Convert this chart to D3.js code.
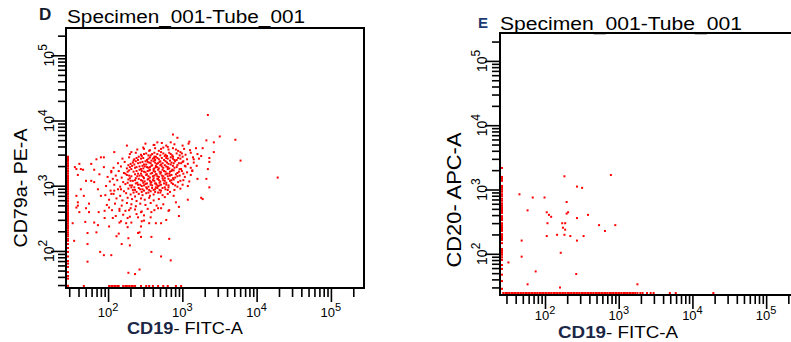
<!DOCTYPE html>
<html>
<head>
<meta charset="utf-8">
<script src="https://cdn.jsdelivr.net/npm/d3@7"></script>
<style>
    body { margin: 0; background: #fff; }
    svg { display: block; font-family: "Liberation Sans", Arial, sans-serif; }
</style>
</head>
<body>
<div id="chart"></div>
<script>

// all event values are log10 of the fluorescence intensity
const decadeExponents = [2, 3, 4, 5];
const OFF_SCALE_LOW = 1;   // below the axis minimum -> piles up on the axis

// panel D : [CD19 FITC-A, CD79a PE-A]
const panelDEvents = [
    // upper / outer events
    [3.33,4.07],[3.49,3.74],[3.70,3.69],[3.77,3.37],[2.86,3.77],[2.92,3.72],[2.83,3.65],[3.08,3.66],
    [3.31,3.68],[3.41,3.65],[2.65,3.65],[2.61,3.61],[2.24,3.60],[2.47,3.55],[2.54,3.52],[2.70,3.55],
    [2.79,3.58],[2.90,3.54],[3.26,3.56],[3.41,3.50],[2.07,3.50],[2.30,3.50],[1.93,3.42],[1.89,3.42],
    [1.83,3.39],[1.76,3.32],[1.60,3.32],[1.56,3.24],[1.65,3.23],[1.58,3.15],[1.80,3.23],[1.87,3.16],
    [1.93,3.27],[2.03,3.21],[1.69,3.06],[1.76,3.06],[1.62,2.93],[1.80,3.04],[1.85,2.93],[2.05,3.09],
    [2.07,2.91],[2.16,2.93],[2.03,2.86],[1.89,2.83],[1.66,2.83],[3.35,3.35],[3.33,3.24],[3.31,3.09],
    [3.35,2.96],[3.24,2.80],[3.19,3.09],[3.12,3.21],[3.14,3.39],[3.24,3.44],[4.27,3.11],[3.35,3.41],
    [1.54,3.27],[1.62,3.24],[1.56,2.83],[1.58,2.68],
    // lower / outer events
    [3.26,2.78],[3.06,2.77],[2.94,2.66],[2.94,2.52],[2.81,2.61],[2.77,2.46],[2.70,2.41],[2.81,2.17],
    [2.70,1.90],[2.83,1.84],[2.57,1.97],[2.57,2.20],[2.43,2.20],[2.39,2.26],[2.28,2.07],[2.26,2.18],
    [2.17,2.09],[2.13,2.25],[2.10,2.21],[2.03,1.92],[1.93,1.92],[1.88,1.97],[1.71,2.09],[1.71,1.82],
    [1.53,2.14],[1.51,2.41],[1.71,2.26],[1.83,2.27],[2.00,2.36],[1.85,2.38],[1.80,2.42],[1.68,2.43],
    [2.23,2.41],[2.25,2.35],[2.14,2.42],[2.43,2.36],[2.44,2.44],[2.54,2.41],[2.63,2.41],[2.39,2.50],
    [2.25,2.49],[2.05,2.49],[1.94,2.49],[1.86,2.58],[1.73,2.58],[1.60,2.58],[1.56,2.65],[1.69,2.64],
    [1.58,2.73],[1.73,2.71],[1.94,2.60],[2.00,2.65],[2.14,2.60],[2.27,2.61],[2.43,2.58],[2.57,2.58],
    [2.66,2.64],[2.80,2.60],[2.90,2.73],[2.41,1.70],[2.26,1.65],[2.35,1.63],[2.41,2.27],
    // main population
    [2.49,3.63],[2.60,3.61],[2.71,3.64],[2.77,3.60],[2.88,3.62],[2.99,3.60],[3.07,3.63],
    [2.38,3.54],[2.46,3.57],[2.55,3.53],[2.62,3.56],[2.67,3.52],[2.73,3.57],[2.80,3.54],[2.86,3.56],
    [2.93,3.52],[3.01,3.55],[3.09,3.53],[3.17,3.56],
    [2.28,3.47],[2.36,3.49],[2.43,3.46],[2.50,3.48],[2.56,3.45],[2.61,3.49],[2.65,3.47],[2.70,3.50],
    [2.76,3.46],[2.81,3.49],[2.85,3.45],[2.91,3.48],[2.96,3.50],[3.03,3.46],[3.10,3.49],[3.19,3.47],
    [2.18,3.40],[2.27,3.42],[2.34,3.39],[2.40,3.43],[2.46,3.41],[2.51,3.38],[2.55,3.42],[2.59,3.40],
    [2.63,3.43],[2.67,3.39],[2.71,3.41],[2.75,3.44],[2.79,3.40],[2.83,3.42],[2.88,3.38],[2.93,3.41],
    [2.99,3.43],[3.05,3.39],[3.13,3.42],[3.21,3.40],
    [2.12,3.33],[2.21,3.35],[2.29,3.32],[2.36,3.36],[2.42,3.34],[2.47,3.31],[2.52,3.35],[2.56,3.33],
    [2.60,3.36],[2.64,3.32],[2.68,3.35],[2.72,3.33],[2.76,3.36],[2.80,3.32],[2.84,3.34],[2.89,3.36],
    [2.94,3.33],[2.99,3.35],[3.06,3.32],[3.14,3.34],
    [2.06,3.26],[2.16,3.28],[2.24,3.25],[2.31,3.29],[2.37,3.27],[2.43,3.24],[2.48,3.28],[2.53,3.26],
    [2.57,3.29],[2.61,3.25],[2.65,3.27],[2.69,3.30],[2.73,3.26],[2.77,3.28],[2.81,3.25],[2.86,3.29],
    [2.91,3.27],[2.97,3.24],[3.03,3.28],[3.10,3.26],[3.18,3.29],
    [2.03,3.19],[2.13,3.21],[2.20,3.18],[2.27,3.22],[2.33,3.20],[2.39,3.17],[2.44,3.21],[2.49,3.19],
    [2.54,3.22],[2.58,3.18],[2.62,3.20],[2.66,3.23],[2.70,3.19],[2.74,3.21],[2.78,3.17],[2.82,3.20],
    [2.87,3.22],[2.92,3.18],[2.98,3.21],[3.05,3.19],[3.12,3.22],
    [1.98,3.12],[2.09,3.14],[2.17,3.11],[2.24,3.15],[2.30,3.13],[2.36,3.10],[2.41,3.14],[2.46,3.12],
    [2.50,3.15],[2.55,3.11],[2.59,3.13],[2.63,3.16],[2.67,3.12],[2.71,3.14],[2.75,3.10],[2.79,3.13],
    [2.84,3.15],[2.89,3.11],[2.95,3.14],[3.02,3.12],[3.10,3.15],
    [2.01,3.05],[2.11,3.07],[2.19,3.04],[2.26,3.08],[2.32,3.06],[2.38,3.03],[2.43,3.07],[2.48,3.05],
    [2.52,3.08],[2.57,3.04],[2.61,3.06],[2.65,3.09],[2.69,3.05],[2.73,3.07],[2.77,3.03],[2.82,3.06],
    [2.87,3.08],[2.93,3.04],[3.00,3.07],[3.08,3.05],
    [1.96,2.98],[2.07,3.00],[2.15,2.97],[2.22,3.01],[2.28,2.99],[2.34,2.96],[2.39,3.00],[2.44,2.98],
    [2.49,3.01],[2.53,2.97],[2.58,2.99],[2.62,3.02],[2.66,2.98],[2.70,3.00],[2.75,2.96],[2.80,2.99],
    [2.86,3.01],[2.92,2.97],[2.99,3.00],[3.06,2.98],
    [2.02,2.91],[2.12,2.93],[2.20,2.90],[2.26,2.94],[2.32,2.92],[2.37,2.89],[2.42,2.93],[2.47,2.91],
    [2.51,2.94],[2.56,2.90],[2.60,2.92],[2.65,2.95],[2.70,2.91],[2.76,2.93],[2.82,2.89],[2.88,2.92],
    [2.96,2.94],
    [1.95,2.84],[2.06,2.86],[2.15,2.83],[2.23,2.87],[2.29,2.85],[2.35,2.82],[2.40,2.86],[2.45,2.84],
    [2.50,2.87],[2.55,2.83],[2.60,2.85],[2.66,2.88],[2.72,2.84],[2.79,2.86],[2.87,2.83],
    [2.00,2.77],[2.10,2.79],[2.18,2.76],[2.25,2.80],[2.31,2.78],[2.37,2.75],[2.43,2.79],[2.48,2.77],
    [2.54,2.80],[2.60,2.76],[2.67,2.78],[2.75,2.81],
    [1.97,2.69],[2.08,2.71],[2.17,2.68],[2.24,2.72],[2.30,2.70],[2.36,2.67],[2.42,2.71],[2.49,2.69],
    [2.56,2.72],[2.64,2.68],[2.73,2.70],
    [2.04,2.61],[2.14,2.63],[2.22,2.60],[2.29,2.64],[2.35,2.62],[2.44,2.59],[2.52,2.63],[2.61,2.61],
    [2.70,2.64],
    [2.09,2.52],[2.19,2.54],[2.28,2.51],[2.37,2.55],[2.47,2.53],[2.56,2.50],
    [2.16,2.44],[2.30,2.42],[2.47,2.45],
    // densest part of the population
    [2.44,3.44],[2.53,3.45],[2.61,3.43],[2.69,3.45],[2.78,3.44],[2.86,3.43],[2.95,3.45],
    [2.33,3.37],[2.39,3.38],[2.49,3.36],[2.57,3.37],[2.62,3.38],[2.69,3.36],[2.74,3.38],[2.82,3.37],
    [2.91,3.38],[3.00,3.36],
    [2.26,3.30],[2.34,3.31],[2.45,3.29],[2.50,3.31],[2.58,3.30],[2.63,3.29],[2.70,3.31],[2.75,3.30],
    [2.83,3.31],[2.92,3.30],[3.02,3.29],
    [2.30,3.24],[2.41,3.23],[2.46,3.25],[2.55,3.23],[2.60,3.24],[2.67,3.25],[2.72,3.23],[2.79,3.24],
    [2.85,3.23],[2.95,3.24],
    [2.22,3.17],[2.35,3.16],[2.43,3.17],[2.51,3.16],[2.56,3.17],[2.64,3.16],[2.69,3.17],[2.76,3.16],
    [2.81,3.17],[2.90,3.16],[3.00,3.17],
    [2.28,3.10],[2.40,3.09],[2.47,3.10],[2.53,3.09],[2.60,3.10],[2.66,3.09],[2.72,3.10],[2.80,3.09],
    [2.86,3.10],
    [2.25,3.03],[2.36,3.02],[2.46,3.03],[2.51,3.02],[2.56,3.03],[2.63,3.02],[2.68,3.03],[2.74,3.02],
    [2.84,3.03],
    [2.30,2.96],[2.40,2.95],[2.50,2.96],[2.58,2.95],[2.63,2.96],[2.72,2.95],[2.80,2.96],
    [2.33,2.88],[2.44,2.89],[2.53,2.88],[2.62,2.89],[2.69,2.88],
    [2.47,3.47],[2.58,3.47],[2.73,3.48],[2.83,3.47],[2.98,3.48],
    [2.37,3.41],[2.43,3.40],[2.53,3.40],[2.61,3.41],[2.65,3.41],[2.77,3.41],[2.86,3.40],[2.96,3.40],
    [2.32,3.34],[2.39,3.33],[2.45,3.35],[2.54,3.34],[2.62,3.34],[2.66,3.33],[2.78,3.34],[2.87,3.33],
    [2.97,3.33],
    [2.28,3.27],[2.35,3.26],[2.41,3.28],[2.51,3.27],[2.55,3.27],[2.63,3.27],[2.71,3.28],[2.79,3.27],
    [2.88,3.26],
    [2.25,3.20],[2.37,3.21],[2.47,3.20],[2.52,3.21],[2.60,3.21],[2.68,3.20],[2.76,3.20],[2.84,3.21],
    [2.94,3.20],
    [2.27,3.14],[2.38,3.13],[2.44,3.14],[2.53,3.13],[2.61,3.14],[2.65,3.13],[2.73,3.13],[2.82,3.14],
    [2.92,3.13],
    [2.29,3.06],[2.35,3.07],[2.45,3.06],[2.55,3.06],[2.59,3.07],[2.67,3.07],[2.75,3.06],[2.84,3.07],
    [2.96,3.06],
    [2.31,2.99],[2.42,3.00],[2.47,2.99],[2.56,3.00],[2.64,3.00],[2.68,2.99],[2.77,3.00],[2.89,2.99],
    [2.35,2.92],[2.45,2.93],[2.54,2.92],[2.62,2.93],[2.68,2.92],[2.79,2.92]
];
// CD79a of panel D events whose CD19 is off scale (left axis pile-up)
const panelDLeftAxis = [3.43,3.41,3.38,3.36,3.33,3.30,3.28,3.25,3.22,3.20,3.17,3.14,3.12,3.09,3.06,3.04,
    3.01,2.98,2.95,2.93,2.90,2.87,2.85,2.82,2.79,2.76,2.74,2.71,2.68,2.66,2.63,2.60,2.57,2.55,2.52,2.49,
    2.46,2.44,2.41,2.38,2.35,2.33,2.30,2.27,2.24,2.21,2.17,2.14,2.09,2.03,1.97,1.90,1.83,1.79,1.74,
    1.66,1.60,1.56,1.45];
// CD19 of panel D events whose CD79a is off scale (bottom axis pile-up)
const panelDBottomAxis = [1.66,2.00,2.03,2.05,2.08,2.11,2.13,2.19,2.22,2.24,2.27,2.30,2.32,2.35,2.43,
    2.50,2.54,2.59,2.66,2.73,2.79,2.90,2.97];

// panel E : [CD19 FITC-A, CD20 APC-A]
const panelEEvents = [
    [2.25,3.19],[2.88,3.21],[2.42,3.03],[2.49,3.01],[1.64,2.91],[1.82,2.86],[1.98,2.86],[2.28,2.79],
    [1.75,2.66],[2.01,2.63],[2.04,2.59],[2.07,2.56],[2.30,2.63],[2.28,2.61],[2.42,2.54],[2.57,2.59],
    [2.02,2.46],[2.22,2.46],[2.26,2.46],[2.23,2.39],[2.26,2.36],[2.72,2.43],[2.94,2.43],[2.80,2.34],
    [2.15,2.28],[2.25,2.28],[2.33,2.26],[2.01,2.26],[2.51,2.26],[2.42,2.19],[1.67,2.19],[2.20,2.00],
    [1.67,1.94],[1.49,1.85],[1.86,1.71],[2.41,1.67],[1.75,1.51],[2.19,1.46],[3.24,1.51]
];
const panelELeftAxis = [3.32,3.18,3.15,3.12,3.04,3.01,2.98,2.95,2.91,2.88,2.84,2.81,2.77,2.74,2.71,
    2.68,2.65,2.62,2.57,2.54,2.51,2.46,2.43,2.40,2.37,2.34,2.29,2.26,2.23,2.20,2.15,2.06,2.03,2.00,
    1.97,1.93,1.89,1.81,1.75,1.66,1.56,1.44];
const panelEBottomAxis = [1.42,1.45,1.47,1.50,1.53,1.55,1.58,1.61,1.63,1.66,1.69,1.72,1.74,1.77,1.80,
    1.82,1.85,1.88,1.91,1.93,1.96,1.99,2.01,2.04,2.07,2.10,2.12,2.15,2.18,2.20,2.23,2.26,2.29,2.31,
    2.34,2.37,2.39,2.42,2.45,2.48,2.50,2.53,2.56,2.58,2.61,2.64,2.67,2.69,2.72,2.75,2.77,2.80,2.83,
    2.86,2.88,2.91,2.94,2.96,2.99,3.02,3.05,3.07,3.10,3.13,3.15,3.18,3.21,3.24,3.28,3.31,3.37,3.42,
    3.46,3.68,3.76,4.27];

const svg = d3.select("#chart").append("svg")
    .attr("width", 791)
    .attr("height", 342);

svg.append("rect").attr("width", 791).attr("height", 342).attr("fill", "#fff");


class FlowPlot {

    constructor(svg, config, events, leftPile, bottomPile) {
        this.svg = svg;
        this.config = config;
        // events off scale low get clamped onto the axis
        this.events = events
            .concat(leftPile.map(v => [OFF_SCALE_LOW, v]))
            .concat(bottomPile.map(v => [v, OFF_SCALE_LOW]));

        this.initVis();
    }

    initVis() {
        let vis = this;
        let c = vis.config;

        vis.g = vis.svg.append("g");

        vis.x = d3.scaleLog().domain(c.xDomain).range(c.xRange).clamp(true);
        vis.y = d3.scaleLog().domain(c.yDomain).range(c.yRange).clamp(true);

        let isMajor = v => Math.abs(Math.log10(v) - Math.round(Math.log10(v))) < 1e-6;
        vis.xMinor = vis.x.ticks().filter(v => !isMajor(v));
        vis.xMajor = vis.x.ticks().filter(isMajor);
        vis.yMinor = vis.y.ticks().filter(v => !isMajor(v));
        vis.yMajor = vis.y.ticks().filter(isMajor);

        // x axis ticks
        [[vis.xMinor, 9], [vis.xMajor, 14]].forEach(([vals, size]) => {
            vis.g.append("g")
                .attr("class", "axis x-axis")
                .attr("transform", `translate(0, ${c.axisY})`)
                .call(d3.axisBottom(vis.x).tickValues(vals).tickSize(size).tickSizeOuter(0).tickFormat(""))
                .call(g => g.select(".domain").remove())
                .selectAll("line").attr("stroke", "#000").attr("stroke-width", 1.6);
        });

        // y axis ticks
        [[vis.yMinor, 8], [vis.yMajor, 15]].forEach(([vals, size]) => {
            vis.g.append("g")
                .attr("class", "axis y-axis")
                .attr("transform", `translate(${c.axisX}, 0)`)
                .call(d3.axisLeft(vis.y).tickValues(vals).tickSize(size).tickSizeOuter(0).tickFormat(""))
                .call(g => g.select(".domain").remove())
                .selectAll("line").attr("stroke", "#000").attr("stroke-width", 1.6);
        });

        // axis lines + box
        vis.g.append("line")
            .attr("x1", c.axisX).attr("x2", c.axisX)
            .attr("y1", c.boxTop).attr("y2", c.axisY + 1)
            .attr("stroke", "#000").attr("stroke-width", 2);
        vis.g.append("line")
            .attr("x1", c.axisX - 1).attr("x2", c.boxRight)
            .attr("y1", c.axisY).attr("y2", c.axisY)
            .attr("stroke", "#000").attr("stroke-width", 2);
        vis.g.append("line")
            .attr("x1", c.axisX - 1).attr("x2", c.boxRight)
            .attr("y1", c.boxTop).attr("y2", c.boxTop)
            .attr("stroke", "#000").attr("stroke-width", 2);
        if (c.drawRight) {
            vis.g.append("line")
                .attr("x1", c.boxRight).attr("x2", c.boxRight)
                .attr("y1", c.boxTop - 1).attr("y2", c.axisY + 1)
                .attr("stroke", "#000").attr("stroke-width", 2);
        }

        // tick labels 10^n
        decadeExponents.forEach(n => {
            let t = vis.g.append("text")
                .attr("x", vis.x(Math.pow(10, n)))
                .attr("y", c.xLabelY)
                .attr("text-anchor", "middle")
                .attr("font-size", "13px");
            t.append("tspan").text("10");
            t.append("tspan").attr("dy", -6).attr("font-size", "11px").text(n);

            let ty = vis.g.append("text")
                .attr("transform", `translate(${c.yLabelX}, ${vis.y(Math.pow(10, n))}) rotate(-90)`)
                .attr("text-anchor", "middle")
                .attr("font-size", "14px");
            ty.append("tspan").text("10");
            ty.append("tspan").attr("dy", -7).attr("font-size", "12px").text(n);
        });

        // panel letter + title
        vis.g.append("text")
            .attr("x", c.letterX).attr("y", c.letterY)
            .attr("font-size", c.letterSize).attr("font-weight", "bold")
            .attr("fill", c.letterColor)
            .text(c.letter);
        vis.g.append("text")
            .attr("x", c.titleX).attr("y", c.titleY)
            .attr("font-size", "18px")
            .attr("textLength", c.titleLength).attr("lengthAdjust", "spacingAndGlyphs")
            .text("Specimen_001-Tube_001");

        // x axis label
        let xl = vis.g.append("text")
            .attr("x", c.xTitleX).attr("y", c.xTitleY)
            .attr("font-size", "16px")
            .attr("textLength", c.xTitleLength).attr("lengthAdjust", "spacingAndGlyphs");
        xl.append("tspan").attr("font-weight", "bold").attr("fill", "#1b2747").text("CD19");
        xl.append("tspan").attr("fill", "#000").text("- FITC-A");

        // y axis label
        vis.g.append("text")
            .attr("transform", `translate(${c.yTitleX}, ${c.yTitleY}) rotate(-90)`)
            .attr("text-anchor", "middle")
            .attr("font-size", c.yTitleSize)
            .attr("textLength", c.yTitleLength).attr("lengthAdjust", "spacingAndGlyphs")
            .text(c.yTitle);

        vis.updateVis();
    }

    updateVis() {
        let vis = this;

        vis.g.append("g")
            .selectAll("rect")
            .data(vis.events)
            .join("rect")
            .attr("x", d => vis.x(Math.pow(10, d[0])))
            .attr("y", d => vis.y(Math.pow(10, d[1])) - 2)
            .attr("width", 2)
            .attr("height", 2)
            .attr("fill", "#ff0000");
    }
}

new FlowPlot(svg, {
    xDomain: [28, 262144], xRange: [67, 362],
    yDomain: [28, 262144], yRange: [287, 28],
    axisX: 66, axisY: 288, boxTop: 28, boxRight: 364, drawRight: true,
    xLabelY: 317, yLabelX: 54,
    letter: "D", letterX: 39, letterY: 20, letterSize: "17px", letterColor: "#141a2b",
    titleX: 67, titleY: 23, titleLength: 238,
    xTitleX: 127, xTitleY: 334, xTitleLength: 116,
    yTitle: "CD79a- PE-A", yTitleX: 27, yTitleY: 188, yTitleSize: "19px", yTitleLength: 119
}, panelDEvents, panelDLeftAxis, panelDBottomAxis);

new FlowPlot(svg, {
    xDomain: [25.3, 262144], xRange: [501, 797],
    yDomain: [23.7, 262144], yRange: [294, 34],
    axisX: 500, axisY: 295, boxTop: 33, boxRight: 792, drawRight: false,
    xLabelY: 320, yLabelX: 487,
    letter: "E", letterX: 478, letterY: 28, letterSize: "15px", letterColor: "#1f3a70",
    titleX: 500, titleY: 30, titleLength: 242,
    xTitleX: 558, xTitleY: 338, xTitleLength: 120,
    yTitle: "CD20- APC-A", yTitleX: 461, yTitleY: 200, yTitleSize: "20px", yTitleLength: 135
}, panelEEvents, panelELeftAxis, panelEBottomAxis);

</script>
</body>
</html>
